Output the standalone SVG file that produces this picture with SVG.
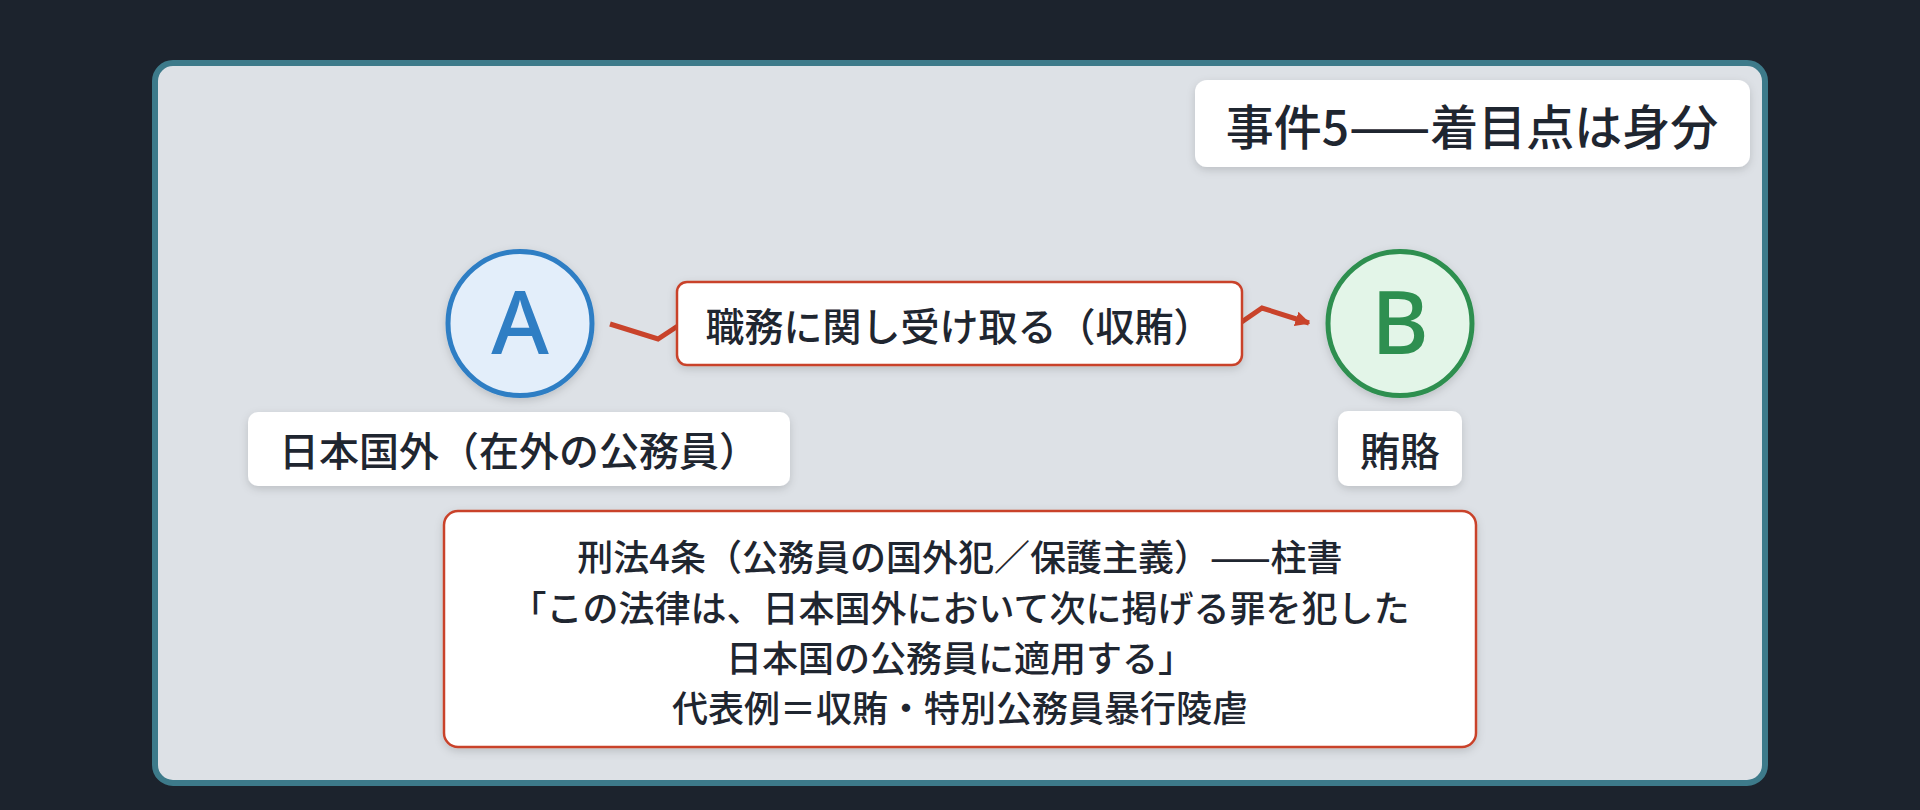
<svg xmlns="http://www.w3.org/2000/svg" width="1920" height="810" viewBox="0 0 1920 810">
<style>
.t{font-family:"Noto Sans CJK JP","Noto Sans",sans-serif;font-weight:500;fill:#1f2630;dominant-baseline:central;text-anchor:middle}
.big{font-family:"Noto Sans","Open Sans",sans-serif;font-weight:500;dominant-baseline:central;text-anchor:middle}
.box{fill:#ffffff}
.red{fill:#ffffff;stroke:#c9432b;stroke-width:2.5}
.conn{fill:none;stroke:#c9432b;stroke-width:5;stroke-linejoin:miter}
</style>
<defs>
<filter id="sh" x="-20%" y="-20%" width="140%" height="150%">
<feDropShadow dx="0" dy="3" stdDeviation="4" flood-color="#000" flood-opacity="0.15"/>
</filter>
<marker id="arr" viewBox="0 0 10 10" refX="9" refY="5" markerWidth="3" markerHeight="3" orient="auto" markerUnits="strokeWidth">
<path d="M0,0 L10,5 L0,10 z" fill="#c9432b"/>
</marker>
</defs>
<rect width="1920" height="810" fill="#1c232d"/>
<rect x="155" y="63" width="1610" height="720" rx="18" fill="#dde1e6" stroke="#3d7a8a" stroke-width="6"/>
<g id="title">
<rect class="box" x="1195" y="80" width="555" height="87" rx="12" filter="url(#sh)"/>
<text class="t" x="1472" y="124" font-size="48">事件5——着目点は身分</text>
</g>
<g id="connectors">
<path class="conn" d="M610,324 L658,339 L690,318 L1230,330 L1262,308 L1309,323" marker-end="url(#arr)"/>
</g>
<g id="edge-label">
<rect class="red" x="677" y="282" width="565" height="83" rx="10" filter="url(#sh)"/>
<text class="t" x="959" y="324" font-size="39">職務に関し受け取る（収賄）</text>
</g>
<g id="nodeA">
<circle cx="520" cy="323.5" r="72" fill="#e3eefa" stroke="#2f7ec4" stroke-width="5" filter="url(#sh)"/>
<text class="big" x="520" y="320" font-size="88" style="fill:#2f7ec4">A</text>
</g>
<g id="labelA">
<rect class="box" x="248" y="412" width="542" height="74" rx="10" filter="url(#sh)"/>
<text class="t" x="519" y="449" font-size="40">日本国外（在外の公務員）</text>
</g>
<g id="nodeB">
<circle cx="1400" cy="323.5" r="72" fill="#e3f5e8" stroke="#2e8f50" stroke-width="5" filter="url(#sh)"/>
<text class="big" x="1400" y="320" font-size="88" style="fill:#2e8f50">B</text>
</g>
<g id="labelB">
<rect class="box" x="1338" y="411" width="124" height="75" rx="10" filter="url(#sh)"/>
<text class="t" x="1400" y="449" font-size="40">賄賂</text>
</g>
<g id="note">
<rect class="red" x="444" y="511" width="1032" height="236" rx="14" stroke-width="3" filter="url(#sh)"/>
<text class="t" x="960" y="555" font-size="36">刑法4条（公務員の国外犯／保護主義）——柱書</text>
<text class="t" x="960" y="606" font-size="36">「この法律は、日本国外において次に掲げる罪を犯した</text>
<text class="t" x="960" y="656" font-size="36">日本国の公務員に適用する」</text>
<text class="t" x="960" y="706" font-size="36">代表例＝収賄・特別公務員暴行陵虐</text>
</g>
</svg>
